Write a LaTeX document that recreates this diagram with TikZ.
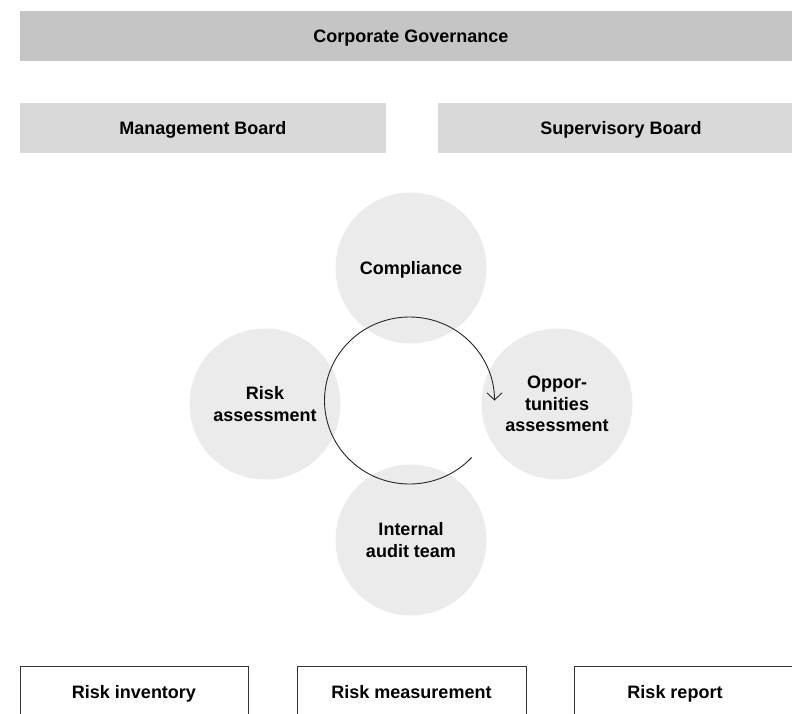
\documentclass[tikz,border=0pt]{standalone}
\usepackage{fontspec}
\setmainfont{Liberation Sans}
\usetikzlibrary{arrows.meta,calc}
\definecolor{govgray}{RGB}{196,197,196}
\definecolor{boardgray}{RGB}{217,217,217}
\definecolor{circgray}{RGB}{235,235,235}
\definecolor{boxline}{RGB}{51,51,51}
\tikzset{
  lbl/.style={font=\fontsize{18}{21.5}\selectfont\bfseries, align=center},
  oneline/.style={text height=15pt, text depth=2pt},
  bar/.style={lbl, oneline, fill=govgray, inner sep=0pt, outer sep=0pt},
  board/.style={lbl, oneline, fill=boardgray, inner sep=0pt, outer sep=0pt},
  topic/.style={lbl, circle, fill=circgray, minimum size=151pt, inner sep=0pt},
  outbox/.style={lbl, oneline, draw=boxline, line width=0.9pt, fill=white, inner sep=0pt, minimum height=52pt},
  cycle/.style={draw=black!85, line width=0.9pt, -{Straight Barb[length=7pt, width=15pt, line width=0.9pt]}}
}
\begin{document}
\begin{tikzpicture}[x=1pt, y=-1pt]
\useasboundingbox (0,0) rectangle (792,713);
% governance
\node[bar, minimum width=782pt, minimum height=50pt] (gov) at (411,36) {Corporate Governance};
\node[board, minimum width=366pt, minimum height=50pt] (mb) at (203,128) {Management Board};
\node[board, minimum width=366pt, minimum height=50pt] (sb) at (621,128) {Supervisory Board};
% circles
\node[topic, oneline] (comp) at (411,268) {Compliance};
\node[topic] (risk) at (265,404) {Risk\\assessment};
\node[topic] (opp) at (557,404) {Oppor-\\tunities\\assessment};
\node[topic] (audit) at (411,540) {Internal\\audit team};
% cycle arrow
\coordinate (cyc) at (409.5,400.5);
\coordinate (cycstart) at ($(cyc)+(43:85 and 83.5)$);
\draw[cycle] (cycstart) arc[start angle=43, end angle=360, x radius=85, y radius=83.5];
% outputs
\node[outbox, minimum width=228pt] (inv) at (134,692) {Risk inventory};
\node[outbox, minimum width=229pt] (meas) at (411.5,692) {Risk measurement};
\node[outbox, minimum width=250pt, label={[lbl, oneline, xshift=-24pt]center:Risk report}] (rep) at (699,692) {};
\end{tikzpicture}
\end{document}
